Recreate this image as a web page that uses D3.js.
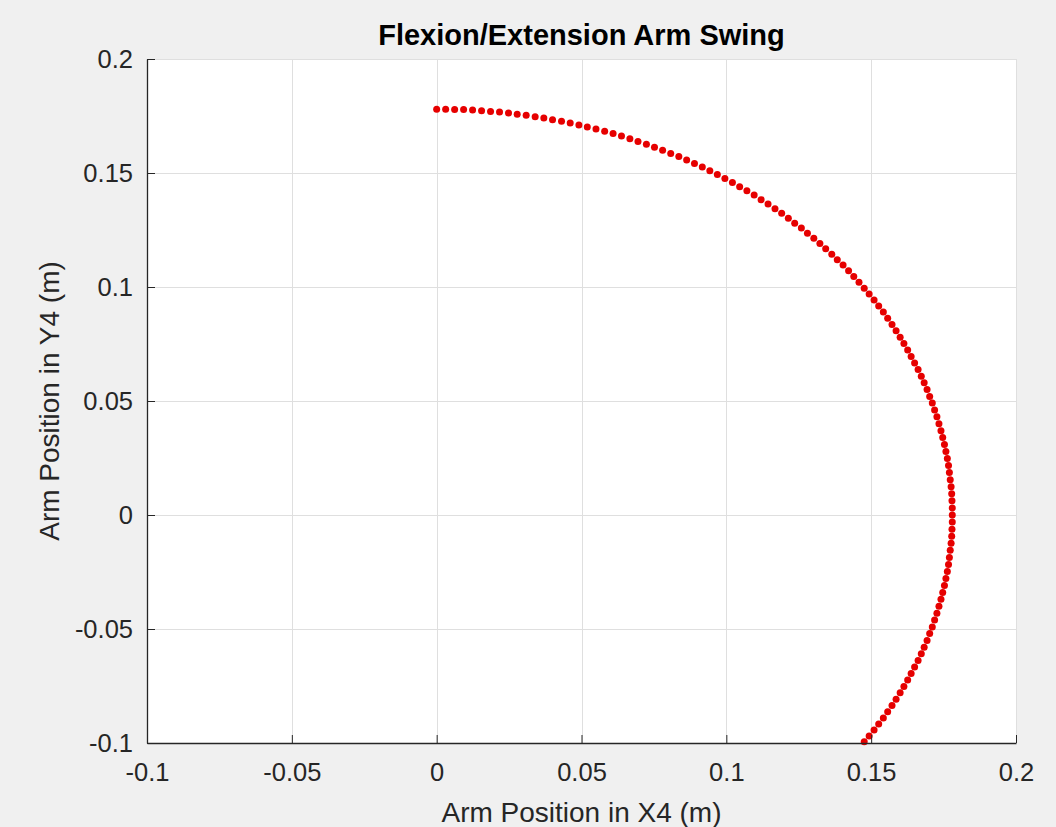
<!DOCTYPE html>
<html>
<head>
<meta charset="utf-8">
<script src="https://cdn.jsdelivr.net/npm/d3@7"></script>
<style>
  html, body { margin: 0; padding: 0; background: #f0f0f0; }
  svg { display: block; font-family: "Liberation Sans", Arial, Helvetica, sans-serif; }
  .tick text { fill: #262626; font-size: 25.5px; }
  .grid line { stroke: #dfdfdf; stroke-width: 1; }
</style>
</head>
<body>
<div class="graph"></div>
<script>
// tick values and their labels
var xTicks = [-0.1, -0.05, 0, 0.05, 0.1, 0.15, 0.2];
var xTickLabels = ["-0.1", "-0.05", "0", "0.05", "0.1", "0.15", "0.2"];
var yTicks = [-0.1, -0.05, 0, 0.05, 0.1, 0.15, 0.2];
var yTickLabels = ["-0.1", "-0.05", "0", "0.05", "0.1", "0.15", "0.2"];

// arm end point positions (m)
var armX = [
  0.0000, 0.0031, 0.0062, 0.0093, 0.0124, 0.0155, 0.0186, 0.0217, 0.0248, 0.0278,
  0.0309, 0.0340, 0.0370, 0.0400, 0.0431, 0.0461, 0.0491, 0.0520, 0.0550, 0.0580,
  0.0609, 0.0638, 0.0667, 0.0695, 0.0724, 0.0752, 0.0780, 0.0808, 0.0836, 0.0863,
  0.0890, 0.0917, 0.0943, 0.0969, 0.0995, 0.1021, 0.1046, 0.1071, 0.1096, 0.1120,
  0.1144, 0.1168, 0.1191, 0.1214, 0.1236, 0.1259, 0.1280, 0.1302, 0.1323, 0.1343,
  0.1364, 0.1383, 0.1403, 0.1422, 0.1440, 0.1458, 0.1476, 0.1493, 0.1510, 0.1526,
  0.1542, 0.1557, 0.1572, 0.1586, 0.1600, 0.1613, 0.1626, 0.1638, 0.1650, 0.1662,
  0.1673, 0.1683, 0.1693, 0.1702, 0.1711, 0.1719, 0.1727, 0.1734, 0.1741, 0.1747,
  0.1753, 0.1758, 0.1763, 0.1767, 0.1770, 0.1773, 0.1776, 0.1778, 0.1779, 0.1780,
  0.1780,
  0.1780, 0.1779, 0.1778, 0.1776, 0.1773, 0.1770, 0.1767, 0.1763, 0.1758, 0.1753,
  0.1747, 0.1741, 0.1734, 0.1727, 0.1719, 0.1711, 0.1702, 0.1693, 0.1683, 0.1673,
  0.1662, 0.1650, 0.1638, 0.1626, 0.1613, 0.1600, 0.1586, 0.1572, 0.1557, 0.1542,
  0.1526, 0.1510, 0.1493, 0.1476
];
var armY = [
  0.1780, 0.1780, 0.1779, 0.1778, 0.1776, 0.1773, 0.1770, 0.1767, 0.1763, 0.1758,
  0.1753, 0.1747, 0.1741, 0.1734, 0.1727, 0.1719, 0.1711, 0.1702, 0.1693, 0.1683,
  0.1673, 0.1662, 0.1650, 0.1638, 0.1626, 0.1613, 0.1600, 0.1586, 0.1572, 0.1557,
  0.1542, 0.1526, 0.1510, 0.1493, 0.1476, 0.1458, 0.1440, 0.1422, 0.1403, 0.1383,
  0.1364, 0.1343, 0.1323, 0.1302, 0.1280, 0.1259, 0.1236, 0.1214, 0.1191, 0.1168,
  0.1144, 0.1120, 0.1096, 0.1071, 0.1046, 0.1021, 0.0995, 0.0969, 0.0943, 0.0917,
  0.0890, 0.0863, 0.0836, 0.0808, 0.0780, 0.0752, 0.0724, 0.0695, 0.0667, 0.0638,
  0.0609, 0.0580, 0.0550, 0.0520, 0.0491, 0.0461, 0.0431, 0.0400, 0.0370, 0.0340,
  0.0309, 0.0278, 0.0248, 0.0217, 0.0186, 0.0155, 0.0124, 0.0093, 0.0062, 0.0031,
  0.0000,
  -0.0031, -0.0062, -0.0093, -0.0124, -0.0155, -0.0186, -0.0217, -0.0248, -0.0278, -0.0309,
  -0.0340, -0.0370, -0.0400, -0.0431, -0.0461, -0.0491, -0.0520, -0.0550, -0.0580, -0.0609,
  -0.0638, -0.0667, -0.0695, -0.0724, -0.0752, -0.0780, -0.0808, -0.0836, -0.0863, -0.0890,
  -0.0917, -0.0943, -0.0969, -0.0995
];

var W = 1056, H = 827;
var margin = {top: 59, right: 40, bottom: 84, left: 147};
var width = W - margin.left - margin.right,   // 869
    height = H - margin.top - margin.bottom;  // 684

var svg = d3.select(".graph").append("svg")
    .attr("width", W)
    .attr("height", H);

svg.append("rect").attr("width", W).attr("height", H).attr("fill", "#f0f0f0");

var g = svg.append("g")
    .attr("transform", "translate(" + margin.left + "," + margin.top + ")");

var x = d3.scaleLinear().domain([-0.1, 0.2]).range([0, width]);
var y = d3.scaleLinear().domain([-0.1, 0.2]).range([height, 0]);

// white axes background
g.append("rect").attr("width", width).attr("height", height).attr("fill", "#ffffff");

// grid
var grid = g.append("g").attr("class", "grid");
grid.selectAll(".gx").data(xTicks).enter().append("line")
    .attr("x1", function(d) { return Math.round(x(d)) + 0.5; })
    .attr("x2", function(d) { return Math.round(x(d)) + 0.5; })
    .attr("y1", 0).attr("y2", height);
grid.selectAll(".gy").data(yTicks).enter().append("line")
    .attr("y1", function(d) { return Math.round(y(d)) + 0.5; })
    .attr("y2", function(d) { return Math.round(y(d)) + 0.5; })
    .attr("x1", 0).attr("x2", width);

// the points
g.selectAll(".dot").data(armX).enter().append("circle")
    .attr("class", "dot")
    .attr("cx", function(d) { return x(d); })
    .attr("cy", function(d, i) { return y(armY[i]); })
    .attr("r", 3.5)
    .attr("fill", "#e60000");

// axes
var xAxis = d3.axisBottom(x)
    .tickValues(xTicks)
    .tickFormat(function(d, i) { return xTickLabels[i]; })
    .tickSizeInner(-8).tickSizeOuter(0).tickPadding(20);
var yAxis = d3.axisLeft(y)
    .tickValues(yTicks)
    .tickFormat(function(d, i) { return yTickLabels[i]; })
    .tickSizeInner(-8).tickSizeOuter(0).tickPadding(14);

var gx = g.append("g").attr("transform", "translate(0," + height + ")").call(xAxis);
var gy = g.append("g").call(yAxis);
[gx, gy].forEach(function(a) {
  a.attr("font-family", null).attr("font-size", null);
  a.select(".domain").attr("stroke", "#262626").attr("stroke-width", 1.3);
  a.selectAll(".tick line").attr("stroke", "#262626").attr("stroke-width", 1);
});

// title and labels
svg.append("text")
    .attr("x", margin.left + width / 2)
    .attr("y", 45)
    .attr("text-anchor", "middle")
    .attr("font-size", "29px")
    .attr("font-weight", "bold")
    .attr("fill", "#000000")
    .text("Flexion/Extension Arm Swing");

svg.append("text")
    .attr("x", margin.left + width / 2)
    .attr("y", 822)
    .attr("text-anchor", "middle")
    .attr("font-size", "28px")
    .attr("fill", "#262626")
    .text("Arm Position in X4 (m)");

svg.append("text")
    .attr("transform", "translate(59," + (margin.top + height / 2) + ") rotate(-90)")
    .attr("text-anchor", "middle")
    .attr("font-size", "28px")
    .attr("fill", "#262626")
    .text("Arm Position in Y4 (m)");
</script>
</body>
</html>
